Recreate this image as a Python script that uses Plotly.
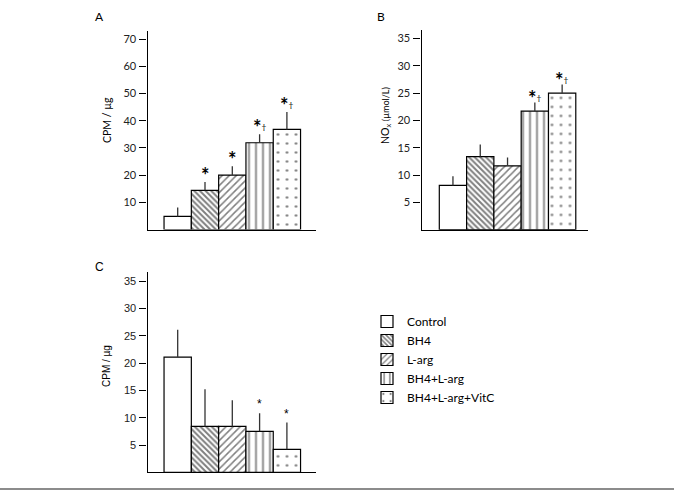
import plotly.graph_objects as go

# ---------------- data ----------------
groups = ["Control", "BH4", "L-arg", "BH4+L-arg", "BH4+L-arg+VitC"]

a_mean = [4.8, 14.4, 20.0, 31.9, 36.8]
a_err = [3.3, 3.1, 3.3, 3.1, 6.4]
a_sig = ["", "*", "*", "*†", "*†"]

b_mean = [8.1, 13.4, 11.7, 21.7, 25.0]
b_err = [1.7, 2.2, 1.5, 1.6, 1.6]
b_sig = ["", "", "", "*†", "*†"]

c_mean = [21.1, 8.4, 8.4, 7.5, 4.2]
c_err = [5.0, 6.8, 4.8, 3.3, 4.9]
c_sig = ["", "", "", "*", "*"]

a_ticks = [10, 20, 30, 40, 50, 60, 70]
b_ticks = [5, 10, 15, 20, 25, 30, 35]
c_ticks = [5, 10, 15, 20, 25, 30, 35]

# ---------------- styles ----------------
W, H = 674, 492
def px(x):
    return x / W
def py(y):
    return 1 - y / H

patterns = [
    dict(shape=""),
    dict(shape="\\", size=4, solidity=0.5, fgcolor="black", bgcolor="white"),
    dict(shape="/", size=5, solidity=0.3, fgcolor="black", bgcolor="white"),
    dict(shape="|", size=7, solidity=0.25, fgcolor="black", bgcolor="white"),
    dict(shape=".", size=9, solidity=0.07, fgcolor="black", bgcolor="white"),
]

FONT_AB = "Lato, 'Open Sans', sans-serif"
FONT_C = "'Liberation Sans', Arial, sans-serif"

fig = go.Figure()

panels = [
    ("x", "y", a_mean, a_err, True),
    ("x2", "y2", b_mean, b_err, False),
    ("x3", "y3", c_mean, c_err, False),
]
for xa, ya, means, errs, show in panels:
    for i, g in enumerate(groups):
        fig.add_trace(go.Bar(
            x=[i], y=[means[i]], width=1, name=g, xaxis=xa, yaxis=ya,
            showlegend=show,
            marker=dict(color="white", line=dict(color="black", width=1.2),
                        pattern=patterns[i]),
            error_y=dict(type="data", symmetric=False, array=[errs[i]],
                         arrayminus=[0], thickness=1.3, width=0, color="#333"),
        ))

# significance marks
annos = []
def add_sig(xr, yr, means, errs, sigs, size, dsize, shift, font, bold):
    for i, s in enumerate(sigs):
        if not s:
            continue
        star = "<b>*</b>" if bold else "*"
        if "†" in s:
            txt = star + "<span style='font-size:%dpx'><sup>†</sup></span>" % dsize
        else:
            txt = star
        annos.append(dict(x=i, y=means[i] + errs[i], xref=xr, yref=yr, text=txt,
                          showarrow=False, xanchor="center", yanchor="bottom", yshift=shift,
                          font=dict(size=size, family=font, color="#000000")))

add_sig("x", "y", a_mean, a_err, a_sig, 20, 12, -7, FONT_AB, True)
add_sig("x2", "y2", b_mean, b_err, b_sig, 20, 12, -10, FONT_AB, True)
add_sig("x3", "y3", c_mean, c_err, c_sig, 12, 9, 0, FONT_C, False)

def lab(x, y, text, font, size=12, angle=0):
    return dict(x=px(x), y=py(y), xref="paper", yref="paper", text=text,
                showarrow=False, xanchor="center", yanchor="middle", textangle=angle,
                font=dict(size=size, family=font, color="black"))

annos += [
    lab(100, 17, "A", FONT_AB),
    lab(381, 17, "B", FONT_AB),
    lab(100, 267, "C", FONT_C),
    lab(107, 120, "CPM / µg", FONT_AB, 10.5, -90),
    lab(386, 116, "NO<sub>x</sub> <span style='font-size:9px'>(µmol/L)</span>", FONT_AB, 10.5, -90),
    lab(106, 366, "CPM / µg", FONT_C, 10, -90),
]

def yax(domain, rng, ticks, font):
    return dict(domain=domain, range=rng, tickvals=ticks, ticks="outside", ticklen=7,
                tickwidth=1, tickcolor="black", showline=True, linecolor="black",
                linewidth=1.2, showgrid=False, zeroline=False, ticklabelstandoff=1,
                tickfont=dict(size=11, family=font, color="#222"))

def xax(domain, rng, anchor):
    return dict(domain=domain, range=rng, anchor=anchor, showticklabels=False, ticks="",
                showline=True, linecolor="black", linewidth=1.2, showgrid=False,
                zeroline=False)

fig.update_layout(
    width=W, height=H, margin=dict(l=0, r=0, t=0, b=0),
    paper_bgcolor="white", plot_bgcolor="rgba(0,0,0,0)",
    barmode="overlay",
    xaxis=xax([px(147.5), px(316)], [-1.106, 5.066], "y"),
    yaxis=yax([py(229.5), py(31)], [0, 73], a_ticks, FONT_AB) | dict(anchor="x"),
    xaxis2=xax([px(421.5), px(587.5)], [-1.152, 4.929], "y2"),
    yaxis2=yax([py(229.7), py(30.4)], [0, 36.5], b_ticks, FONT_AB) | dict(anchor="x2"),
    xaxis3=xax([px(147.5), px(316)], [-1.106, 5.066], "y3"),
    yaxis3=yax([py(472.3), py(271.9)], [0, 36.7], c_ticks, FONT_C) | dict(anchor="x3"),
    legend=dict(x=px(367), y=py(307), xanchor="left", yanchor="top",
                font=dict(size=12, family=FONT_AB, color="black"),
                bgcolor="rgba(0,0,0,0)", borderwidth=0, traceorder="normal"),
    annotations=annos,
    shapes=[dict(type="line", xref="paper", yref="paper", x0=0, x1=1,
                 y0=py(489), y1=py(489), line=dict(color="#8c8c8c", width=2))],
)

fig.write_html("out.html")
